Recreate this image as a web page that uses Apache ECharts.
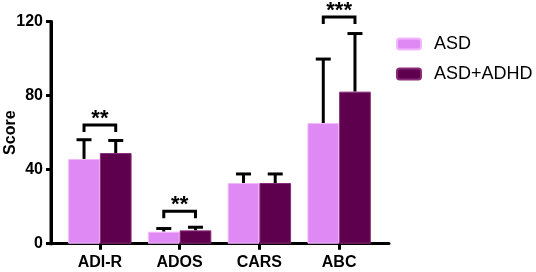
<!DOCTYPE html>
<html>
<head>
<meta charset="utf-8">
<script src="https://cdn.jsdelivr.net/npm/echarts@6/dist/echarts.min.js"></script>
<style>
  html, body { margin: 0; padding: 0; background: #fff; }
  #chart { width: 536px; height: 272px; }
</style>
</head>
<body>
<div id="chart"></div>
<script>
// values
var categories = ['ADI-R', 'ADOS', 'CARS', 'ABC'];
var seriesNames = ['ASD', 'ASD+ADHD'];
var asdMean = [45.8, 6.5, 32.8, 65.2];
var asdSd = [10.4, 1.7, 4.9, 34.6];
var adhdMean = [49.0, 7.2, 32.8, 82.2];
var adhdSd = [6.8, 1.7, 4.9, 31.4];
// significance brackets: label and height of the bracket
var sigLabels = ['**', '**', '', '***'];
var sigTop = [64.2, 17.6, null, 122.6];
var yRange = [0, 120];

var GAP = 0.205;   // barCategoryGap as a fraction
var FONT = '"Liberation Sans", Arial, Helvetica, sans-serif';

function errData(mean, sd){
	var out = [];
	for (var i=0; i<mean.length; i++){
		out.push([i, mean[i], sd[i]]);
	}
	return out;
}

function errRender(sign){
	return function(params, api){
		var idx = api.value(0);
		var m = api.value(1);
		var s = api.value(2);
		var band = api.size([1, 0])[0];
		var off = sign * band * (1 - GAP) / 4;
		var base = api.coord([idx, m]);
		var top = api.coord([idx, m + s]);
		var x = base[0] + off;
		var st = {stroke: '#000', lineWidth: 3};
		return {
			type: 'group',
			children: [
				{type: 'line', shape: {x1: x, y1: base[1], x2: x, y2: top[1]}, style: st},
				{type: 'line', shape: {x1: x - 7.5, y1: top[1], x2: x + 7.5, y2: top[1]}, style: st}
			]
		};
	};
}

var sigData = [];
for (var i=0; i<sigTop.length; i++){
	if (sigTop[i] != null) sigData.push([i, sigTop[i]]);
}

var chart = echarts.init(document.getElementById('chart'));
var option = {
	animation: false,
	grid: [
		{left: 60, width: 319, top: 21.7, height: 222, outerBoundsMode: 'none'},
		{left: 51, width: 338, top: 21.7, height: 222, outerBoundsMode: 'none'}
	],
	legend: {
		data: seriesNames,
		orient: 'vertical',
		left: 396,
		top: 35,
		padding: 0,
		itemWidth: 24,
		itemHeight: 11,
		itemGap: 12,
		textStyle: {fontFamily: FONT, fontSize: 18, color: '#000', lineHeight: 18, padding: [0, 0, 0, 8]}
	},
	xAxis: [
		{
			type: 'category',
			gridIndex: 0,
			data: categories,
			axisLine: {show: false},
			axisTick: {show: true, alignWithLabel: true, length: 6, lineStyle: {color: '#000', width: 3}},
			axisLabel: {fontFamily: FONT, fontSize: 16, fontWeight: 'bold', color: '#000', margin: 11}
		},
		{
			// the long baseline of the plot
			type: 'value',
			gridIndex: 1,
			min: 0, max: 1,
			axisLine: {show: true, lineStyle: {color: '#000', width: 3}},
			axisTick: {show: false},
			axisLabel: {show: false},
			splitLine: {show: false}
		}
	],
	yAxis: [
		{
			// carries only the axis title
			type: 'value', gridIndex: 0, min: 0, max: 120,
			name: 'Score',
			nameLocation: 'middle',
			nameGap: 41,
			nameMoveOverlap: false,
			nameTextStyle: {fontFamily: FONT, fontSize: 16, fontWeight: 'bold', color: '#000'},
			axisLine: {show: false},
			axisTick: {show: false},
			axisLabel: {show: false},
			splitLine: {show: false}
		},
		{
			type: 'value', gridIndex: 1, min: 0, max: 120, interval: 40,
			axisLine: {show: true, onZero: false, lineStyle: {color: '#000', width: 3}},
			axisTick: {show: true, length: 5, lineStyle: {color: '#000', width: 3}},
			axisLabel: {fontFamily: FONT, fontSize: 16, fontWeight: 'bold', color: '#000', margin: 8},
			splitLine: {show: false}
		}
	],
	series: [
		{
			type: 'bar', name: seriesNames[0], xAxisIndex: 0, yAxisIndex: 0,
			data: asdMean,
			barGap: '0%', barCategoryGap: (GAP * 100) + '%',
			itemStyle: {color: '#DF8AF4', borderColor: '#F2B8FB', borderWidth: 1},
			z: 3
		},
		{
			type: 'bar', name: seriesNames[1], xAxisIndex: 0, yAxisIndex: 0,
			data: adhdMean,
			barGap: '0%', barCategoryGap: (GAP * 100) + '%',
			itemStyle: {color: '#5F004E', borderColor: '#8A2A78', borderWidth: 1},
			z: 3
		},
		{
			type: 'custom', xAxisIndex: 0, yAxisIndex: 0, z: 2,
			renderItem: errRender(-1), data: errData(asdMean, asdSd), silent: true
		},
		{
			type: 'custom', xAxisIndex: 0, yAxisIndex: 0, z: 2,
			renderItem: errRender(1), data: errData(adhdMean, adhdSd), silent: true
		},
		{
			// vertical axis line, drawn through the long grid's own scales
			type: 'custom', xAxisIndex: 1, yAxisIndex: 1, z: 6, clip: false, silent: true,
			data: [[0, yRange[0], yRange[1]]],
			renderItem: function(params, api){
				var a = api.coord([api.value(0), api.value(1)]);
				var b = api.coord([api.value(0), api.value(2)]);
				return {
					type: 'line',
					shape: {x1: a[0], y1: a[1] + 1.5, x2: b[0], y2: b[1] - 1.5},
					style: {stroke: '#000', lineWidth: 3}
				};
			}
		},
		{
			// significance brackets
			type: 'custom', xAxisIndex: 0, yAxisIndex: 0, z: 4, clip: false, silent: true,
			data: sigData,
			renderItem: function(params, api){
				var idx = api.value(0);
				var band = api.size([1, 0])[0];
				var off = band * (1 - GAP) / 4;
				var p = api.coord([idx, api.value(1)]);
				var x1 = p[0] - off, x2 = p[0] + off, y = p[1];
				var st = {stroke: '#000', lineWidth: 3, fill: null};
				return {
					type: 'group',
					children: [
						{type: 'polyline', shape: {points: [[x1, y + 7], [x1, y], [x2, y], [x2, y + 7]]}, style: st},
						{type: 'text', style: {
							text: sigLabels[idx], x: p[0], y: y + 5,
							align: 'center', verticalAlign: 'bottom',
							font: 'bold 22px ' + FONT, fill: '#000'
						}}
					]
				};
			}
		}
	]
};
chart.setOption(option);
</script>
</body>
</html>
